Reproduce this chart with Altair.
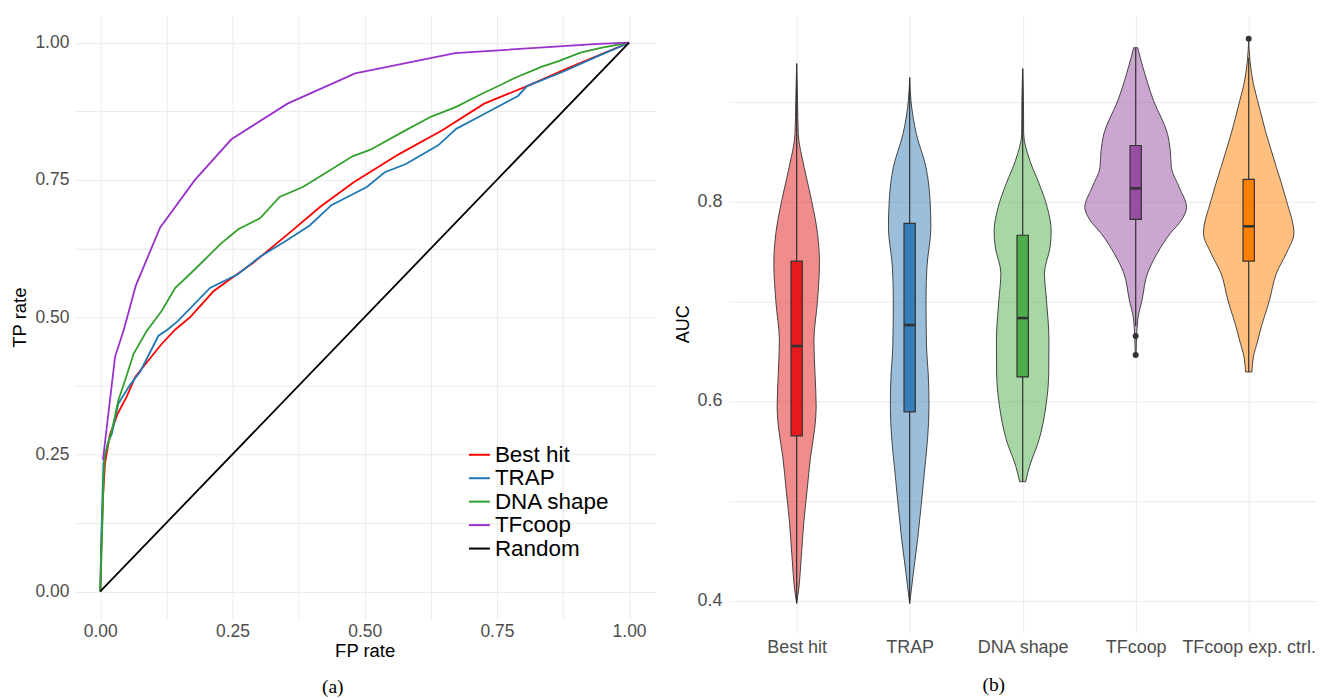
import altair as alt
import pandas as pd

# ---------------- ROC data (panel a) ----------------
methods = ["Best hit", "TRAP", "DNA shape", "TFcoop", "Random"]
method_colors = ["#FF0000", "#1F78B4", "#33A02C", "#9932CC", "#000000"]

besthit_fpr = [0, 0.002, 0.005, 0.009, 0.018, 0.033, 0.05, 0.066, 0.09, 0.116, 0.1415, 0.17, 0.214,
               0.25, 0.288, 0.356, 0.416, 0.48, 0.565, 0.646, 0.726, 0.807, 0.888, 0.955, 1.0]
besthit_tpr = [0, 0.08, 0.17, 0.234, 0.285, 0.324, 0.355, 0.391, 0.42, 0.451, 0.477, 0.50, 0.547,
               0.572, 0.598, 0.652, 0.701, 0.746, 0.797, 0.840, 0.889, 0.921, 0.955, 0.982, 1.0]

trap_fpr = [0, 0.002, 0.006, 0.014, 0.022, 0.034, 0.056, 0.075, 0.091, 0.110, 0.127, 0.147, 0.2075,
            0.26, 0.302, 0.35, 0.396, 0.437, 0.504, 0.538, 0.578, 0.639, 0.673, 0.726, 0.790, 0.807,
            0.875, 0.942, 1.0]
trap_tpr = [0, 0.10, 0.234, 0.27, 0.288, 0.342, 0.376, 0.40, 0.43, 0.466, 0.477, 0.493, 0.553,
            0.578, 0.610, 0.638, 0.667, 0.704, 0.737, 0.764, 0.779, 0.813, 0.843, 0.870, 0.903, 0.921,
            0.947, 0.976, 1.0]

dna_fpr = [0, 0.002, 0.004, 0.006, 0.008, 0.015, 0.022, 0.034, 0.047, 0.063, 0.088, 0.116, 0.1415,
           0.181, 0.228, 0.261, 0.302, 0.339, 0.383, 0.413, 0.477, 0.511, 0.571, 0.625, 0.673, 0.720,
           0.787, 0.834, 0.868, 0.908, 0.949, 1.0]
dna_tpr = [0, 0.06, 0.125, 0.20, 0.246, 0.27, 0.294, 0.348, 0.385, 0.433, 0.475, 0.511, 0.553,
           0.589, 0.634, 0.660, 0.680, 0.719, 0.737, 0.755, 0.793, 0.805, 0.837, 0.865, 0.883, 0.906,
           0.937, 0.956, 0.967, 0.982, 0.991, 1.0]

tfcoop_fpr = [0.005, 0.028, 0.0445, 0.067, 0.113, 0.179, 0.248, 0.354, 0.482, 0.671, 0.942, 1.0]
tfcoop_tpr = [0.24, 0.428, 0.477, 0.557, 0.663, 0.750, 0.824, 0.889, 0.944, 0.981, 0.998, 1.0]

random_fpr = [0.0, 1.0]
random_tpr = [0.0, 1.0]

grid_ticks_a = [0, 0.125, 0.25, 0.375, 0.5, 0.625, 0.75, 0.875, 1.0]

# ---------------- Violin data (panel b) ----------------
groups = ["Best hit", "TRAP", "DNA shape", "TFcoop", "TFcoop exp. ctrl."]
group_fills = ["#E41A1C", "#377EB8", "#4DAF4A", "#984EA3", "#FF7F00"]

bh_auc = [0.397, 0.41, 0.444, 0.478, 0.511, 0.544, 0.574, 0.594, 0.628, 0.66, 0.70, 0.738, 0.768,
          0.801, 0.834, 0.868, 0.90, 0.938]
bh_dens = [0.0, 1.9, 4.7, 7.2, 10.6, 14.0, 18.4, 19.7, 18.5, 17.4, 21.0, 23.0, 21.0,
           15.0, 7.6, 1.6, 0.9, 0.0]

trap_auc = [0.397, 0.428, 0.461, 0.494, 0.528, 0.561, 0.594, 0.628, 0.654, 0.701, 0.734, 0.774,
            0.801, 0.834, 0.868, 0.901, 0.924]
trap_dens = [0.0, 3.8, 8.0, 11.5, 14.8, 18.0, 19.5, 18.7, 17.0, 16.5, 17.4, 21.4,
             20.6, 16.5, 6.6, 1.3, 0.0]

dna_auc = [0.519, 0.534, 0.561, 0.594, 0.628, 0.661, 0.701, 0.728, 0.754, 0.770, 0.794, 0.818,
           0.841, 0.868, 0.90, 0.933]
dna_dens = [3.0, 6.8, 16.5, 23.3, 26.3, 26.5, 24.0, 22.0, 27.6, 28.8, 24.8, 16.5,
            7.2, 1.0, 0.8, 0.0]

tfc_auc = [0.646, 0.681, 0.701, 0.728, 0.748, 0.768, 0.781, 0.794, 0.814, 0.834, 0.85, 0.868,
           0.901, 0.934, 0.954]
tfc_dens = [0.4, 2.0, 6.4, 12.0, 21.8, 35.0, 46.0, 51.3, 44.0, 36.0, 35.0, 32.0,
            18.0, 7.4, 2.0]

ctrl_auc = [0.629, 0.644, 0.661, 0.668, 0.701, 0.728, 0.748, 0.768, 0.801, 0.834, 0.868, 0.901,
            0.918, 0.941, 0.963]
ctrl_dens = [3.2, 4.7, 9.3, 11.0, 21.0, 28.0, 38.0, 45.6, 38.0, 28.0, 17.6, 9.0,
             4.7, 1.3, 0.0]

box_q1 = [0.565, 0.589, 0.624, 0.782, 0.740]
box_med = [0.655, 0.676, 0.683, 0.813, 0.775]
box_q3 = [0.740, 0.778, 0.766, 0.856, 0.822]
whisk_lo = [0.397, 0.397, 0.519, 0.675, 0.629]
whisk_hi = [0.938, 0.924, 0.933, 0.954, 0.944]

outlier_group = ["TFcoop", "TFcoop", "TFcoop exp. ctrl."]
outlier_auc = [0.665, 0.646, 0.963]

auc_ticks = [0.4, 0.5, 0.6, 0.7, 0.8, 0.9]

# ---------------- build tables ----------------
rows = []
for name, fx, ty in zip(methods,
                        [besthit_fpr, trap_fpr, dna_fpr, tfcoop_fpr, random_fpr],
                        [besthit_tpr, trap_tpr, dna_tpr, tfcoop_tpr, random_tpr]):
    for i, (a, b) in enumerate(zip(fx, ty)):
        rows.append({"method": name, "fpr": a, "tpr": b, "k": i})
roc = pd.DataFrame(rows)

VIOLIN_HALF = 0.45  # ggplot width 0.9
BOX_HALF = 0.05
dmax = max(max(d) for d in [bh_dens, trap_dens, dna_dens, tfc_dens, ctrl_dens])
vrows = []
for gi, (name, aa, dd) in enumerate(zip(groups,
                                        [bh_auc, trap_auc, dna_auc, tfc_auc, ctrl_auc],
                                        [bh_dens, trap_dens, dna_dens, tfc_dens, ctrl_dens])):
    for a, d in zip(aa, dd):
        w = d / dmax * VIOLIN_HALF
        vrows.append({"group": name, "auc": a, "lo": gi + 1 - w, "hi": gi + 1 + w})
viol = pd.DataFrame(vrows)

box = pd.DataFrame({
    "group": groups,
    "pos": [i + 1 for i in range(len(groups))],
    "q1": box_q1, "med": box_med, "q3": box_q3, "wlo": whisk_lo, "whi": whisk_hi,
})
box["bl"] = box["pos"] - BOX_HALF
box["br"] = box["pos"] + BOX_HALF

outl = pd.DataFrame({"group": outlier_group, "auc": outlier_auc})
outl["pos"] = [groups.index(g) + 1 for g in outlier_group]

FONT = "Liberation Sans"
GRID = "#EBEBEB"
LABEL = "#4D4D4D"

# ---------------- panel (a) ----------------
xa = alt.X("fpr:Q", scale=alt.Scale(domain=[-0.05, 1.05], nice=False, zero=False),
           axis=alt.Axis(title="FP rate", values=grid_ticks_a,
                         labelExpr="(datum.value*4) % 1 == 0 ? format(datum.value, '.2f') : ''",
                         domain=False, ticks=False, tickSize=0, labelPadding=4, titlePadding=1,
                         labelFontSize=17.5, titleFontSize=18.5, labelColor=LABEL,
                         gridColor=GRID, labelFont=FONT, titleFont=FONT, titleFontWeight="normal"))
ya = alt.Y("tpr:Q", scale=alt.Scale(domain=[-0.05, 1.05], nice=False, zero=False),
           axis=alt.Axis(title="TP rate", values=grid_ticks_a,
                         labelExpr="(datum.value*4) % 1 == 0 ? format(datum.value, '.2f') : ''",
                         domain=False, ticks=False, tickSize=0, labelPadding=5, titlePadding=5,
                         labelFontSize=17.5, titleFontSize=18.5, labelColor=LABEL,
                         gridColor=GRID, labelFont=FONT, titleFont=FONT, titleFontWeight="normal"))

left = alt.Chart(roc).mark_line(strokeWidth=1.8).encode(
    x=xa, y=ya,
    color=alt.Color("method:N", scale=alt.Scale(domain=methods, range=method_colors),
                    legend=alt.Legend(title=None, orient="none", legendX=395, legendY=429,
                                      symbolType="stroke", symbolSize=441, symbolStrokeWidth=2,
                                      labelFontSize=22.5, labelFont=FONT, labelColor="#000000",
                                      labelOffset=4, rowPadding=0.5, padding=0)),
    detail="method:N",
    order="k:Q",
).properties(
    width=583, height=605,
    title=alt.TitleParams("(a)", orient="bottom", font="Liberation Serif", fontSize=19.5,
                          fontWeight="normal", color="#000000", dx=-32, offset=18),
)

# ---------------- panel (b) ----------------
labels_js = "[" + ",".join("'" + g + "'" for g in groups) + "]"
xb_scale = alt.Scale(domain=[0.4, 5.6], nice=False, zero=False)
yb_scale = alt.Scale(domain=[0.368, 0.9865], nice=False, zero=False)
xb_axis = alt.Axis(title=None, values=[1, 2, 3, 4, 5],
                   labelExpr=labels_js + "[datum.value - 1]",
                   domain=False, ticks=False, tickSize=0, labelPadding=6,
                   labelFontSize=18, labelColor=LABEL, labelFont=FONT, gridColor=GRID)
yb_axis = alt.Axis(title="AUC", values=auc_ticks,
                   labelExpr="round(datum.value*10) % 2 == 0 ? format(datum.value, '.1f') : ''",
                   domain=False, ticks=False, tickSize=0, labelPadding=7, titlePadding=4,
                   labelFontSize=18, titleFontSize=18, labelColor=LABEL, labelFont=FONT,
                   titleFont=FONT, titleFontWeight="normal", gridColor=GRID)

fill_scale = alt.Scale(domain=groups, range=group_fills)

violins = alt.Chart(viol).mark_area(orient="horizontal", interpolate="monotone",
                                     fillOpacity=0.5, stroke="#333333", strokeWidth=0.9).encode(
    y=alt.Y("auc:Q", scale=yb_scale, axis=yb_axis),
    x=alt.X("lo:Q", scale=xb_scale, axis=xb_axis),
    x2="hi:Q",
    fill=alt.Fill("group:N", scale=fill_scale, legend=None),
    detail="group:N",
)

whiskers = alt.Chart(box).mark_rule(color="#333333", strokeWidth=1.2).encode(
    x=alt.X("pos:Q", scale=xb_scale), y=alt.Y("wlo:Q", scale=yb_scale), y2="whi:Q")

boxes = alt.Chart(box).mark_rect(stroke="#333333", strokeWidth=1.2).encode(
    x=alt.X("bl:Q", scale=xb_scale), x2="br:Q",
    y=alt.Y("q1:Q", scale=yb_scale), y2="q3:Q",
    fill=alt.Fill("group:N", scale=fill_scale, legend=None))

medians = alt.Chart(box).mark_rule(color="#333333", strokeWidth=2.6).encode(
    x=alt.X("bl:Q", scale=xb_scale), x2="br:Q", y=alt.Y("med:Q", scale=yb_scale))

outliers = alt.Chart(outl).mark_circle(color="#333333", opacity=1, size=36).encode(
    x=alt.X("pos:Q", scale=xb_scale), y=alt.Y("auc:Q", scale=yb_scale))

right = alt.layer(violins, whiskers, boxes, medians, outliers).properties(
    width=589, height=618.5,
    title=alt.TitleParams("(b)", orient="bottom", font="Liberation Serif", fontSize=19.5,
                          fontWeight="normal", color="#000000", dx=-29, offset=20),
)

chart = alt.hconcat(left, right, spacing=18.5).properties(
    padding={"left": 2, "top": 6.5, "right": 0, "bottom": 0}
).configure_view(stroke=None)

chart.save("out.html", embed_options={"renderer": "svg", "actions": False})
